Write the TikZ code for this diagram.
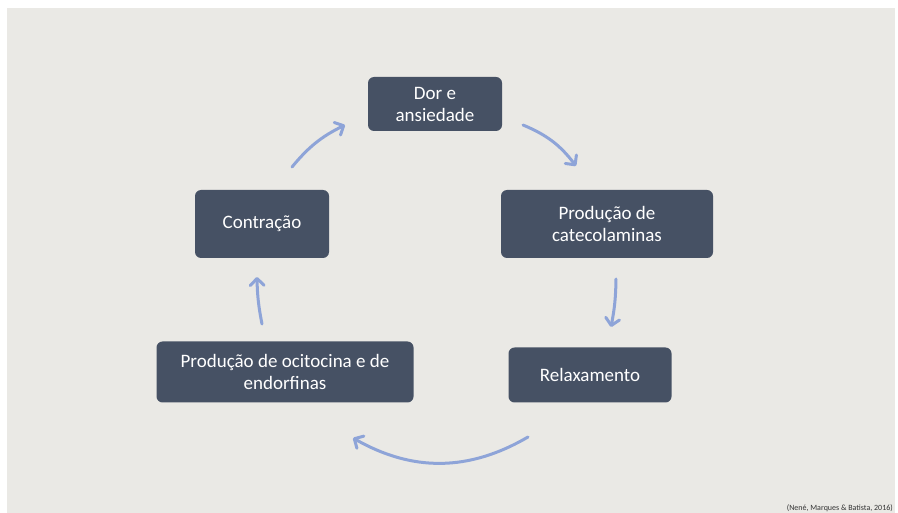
\documentclass[tikz,border=0pt]{standalone}
\usepackage{fontspec}
\setmainfont{Carlito}
\usetikzlibrary{arrows.meta}
\definecolor{slide}{HTML}{EAE9E5}
\definecolor{boxfill}{HTML}{465164}
\definecolor{arrowblue}{HTML}{8EA4D8}
\tikzstyle{stepbox} = [rectangle, rounded corners=6pt, align=center, fill=boxfill, text=white, font=\fontsize{19}{22}\selectfont, inner sep=4pt]
\tikzstyle{arrow} = [line width=3pt, draw=arrowblue, line cap=round, -{Straight Barb[length=7pt,width=14pt,line width=3pt,round]}]

\begin{document}
\begin{tikzpicture}[x=1pt, y=-1pt]
\useasboundingbox (0,0) rectangle (898,513);
\fill[slide] (7,8) rectangle (895,513);

\node [stepbox, minimum width=134pt, minimum height=54pt] (dor) at (435,104) {Dor e\\ansiedade};
\node [stepbox, minimum width=212pt, minimum height=68pt] (cat) at (607,224) {Produção de\\catecolaminas};
\node [stepbox, minimum width=163pt, minimum height=55pt] (relax) at (590,375) {Relaxamento};
\node [stepbox, minimum width=257pt, minimum height=61pt] (ocit) at (285,372) {Produção de ocitocina e de\\endorfinas};
\node [stepbox, minimum width=134pt, minimum height=68pt] (contr) at (262,224) {Contração};

% arrow ends
\coordinate (a1) at (523,125);
\coordinate (b1) at (576,166);
\coordinate (a2) at (616,279);
\coordinate (b2) at (611,327);
\coordinate (a3) at (528,437);
\coordinate (b3) at (353,438);
\coordinate (a4) at (262,324);
\coordinate (b4) at (257,277);
\coordinate (a5) at (292,167);
\coordinate (b5) at (345,125);

\draw [arrow] (a1) to[bend left=15] (b1);
\draw [arrow] (a2) to[bend left=5] (b2);
\draw [arrow] (a3) to[bend left=30] (b3);
\draw [arrow] (a4) to[bend left=5] (b4);
\draw [arrow] (a5) to[bend left=12] (b5);

\node [anchor=base east, inner sep=0pt, font=\fontsize{8}{9}\selectfont, text=black!80] (cite) at (893,510) {(Nené, Marques \& Batista, 2016)};

\end{tikzpicture}
\end{document}
